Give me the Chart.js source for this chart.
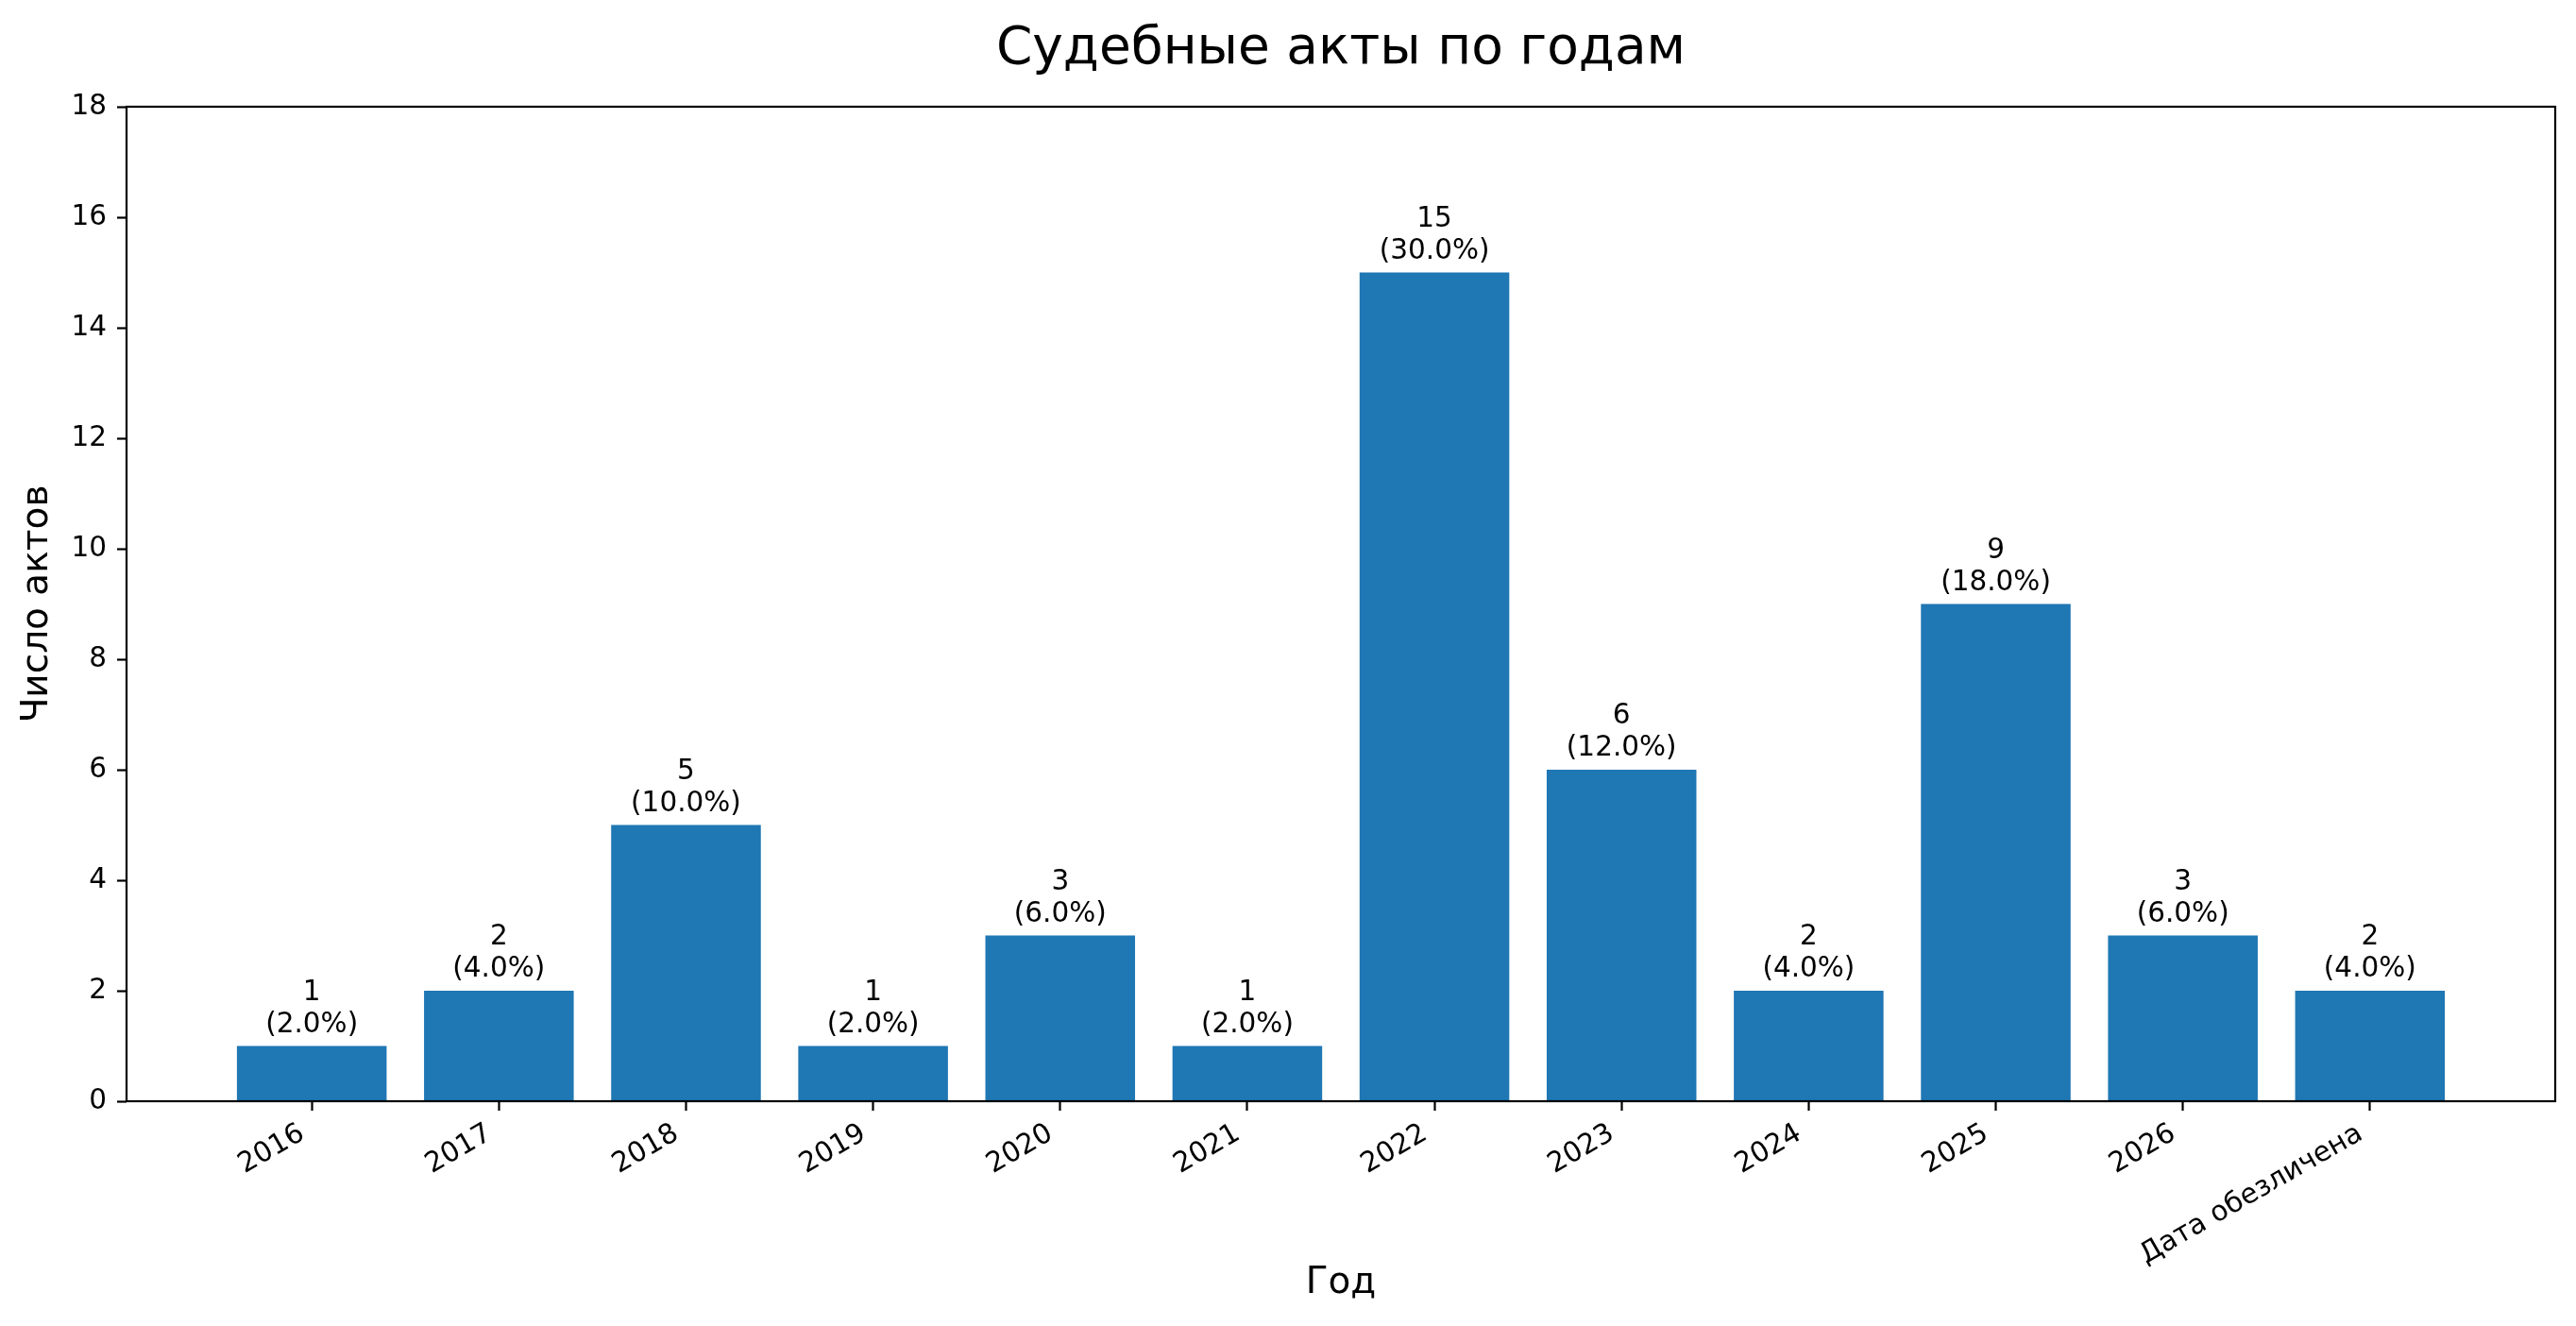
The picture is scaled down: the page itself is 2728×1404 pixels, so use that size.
<!DOCTYPE html>
<html>
<head>
<meta charset="utf-8">
<script src="https://cdn.jsdelivr.net/npm/chart.js@4.4.1/dist/chart.umd.min.js"></script>
<style>
  body { margin: 0; background: #fff; }
</style>
</head>
<body>
<canvas id="actsChart" width="2728" height="1404"></canvas>
<script>
// data
const years = ['2016', '2017', '2018', '2019', '2020', '2021', '2022', '2023', '2024', '2025', '2026', 'Дата обезличена'];
const counts = [1, 2, 5, 1, 3, 1, 15, 6, 2, 9, 3, 2];
const yTicks = [0, 2, 4, 6, 8, 10, 12, 14, 16, 18];
const chartTitle = 'Судебные акты по годам';

const total = counts.reduce((a, b) => a + b, 0);
const points = counts.map((v, i) => ({ x: i, y: v }));

const FONT = '"DejaVu Sans", "Liberation Sans", sans-serif';
Chart.defaults.color = '#000';
Chart.defaults.font.family = FONT;

// count and percent above every bar
const barLabels = {
    id: 'barLabels',
    afterDatasetsDraw(chart) {
        const ctx = chart.ctx;
        const meta = chart.getDatasetMeta(0);
        ctx.save();
        ctx.font = '29.5px ' + FONT;
        ctx.fillStyle = '#000';
        ctx.textAlign = 'center';
        ctx.textBaseline = 'alphabetic';
        meta.data.forEach((bar, i) => {
            const pct = (counts[i] / total * 100).toFixed(1);
            ctx.fillText(String(counts[i]), bar.x, bar.y - 49);
            ctx.fillText('(' + pct + '%)', bar.x, bar.y - 15);
        });
        ctx.restore();
    }
};

// box round the plot area, title centred over it
const frame = {
    id: 'frame',
    afterDraw(chart) {
        const a = chart.chartArea;
        const ctx = chart.ctx;
        ctx.save();
        ctx.strokeStyle = '#000';
        ctx.lineWidth = 2.2;
        ctx.strokeRect(a.left, a.top, a.right - a.left, a.bottom - a.top);
        ctx.font = '55px ' + FONT;
        ctx.fillStyle = '#000';
        ctx.textAlign = 'center';
        ctx.textBaseline = 'alphabetic';
        ctx.fillText(chartTitle, (a.left + a.right) / 2, a.top - 46);
        ctx.restore();
    }
};

const ctx = document.getElementById('actsChart').getContext('2d');
const actsChart = new Chart(ctx, {
    type: 'bar',
    data: {
        datasets: [{
            data: points,
            backgroundColor: '#1f77b4',
            borderWidth: 0,
            barPercentage: 0.8,
            categoryPercentage: 1.0,
        }],
    },
    options: {
        responsive: false,
        animation: false,
        devicePixelRatio: 1,
        layout: { padding: { left: 0, right: 22, top: 113, bottom: 0 } },
        plugins: {
            legend: { display: false },
            tooltip: { enabled: false },
            title: { display: false },
        },
        scales: {
            x: {
                type: 'linear',
                min: -0.99,
                max: 11.99,
                offset: false,
                afterBuildTicks: scale => {
                    scale.ticks = years.map((y, i) => ({ value: i }));
                },
                afterFit: scale => { scale.height = 238; },
                ticks: {
                    autoSkip: false,
                    minRotation: 30,
                    maxRotation: 30,
                    padding: 7,
                    labelOffset: -10,
                    color: '#000',
                    font: { size: 29.5 },
                    callback: value => years[value],
                },
                grid: {
                    display: true,
                    offset: false,
                    drawOnChartArea: false,
                    drawTicks: true,
                    tickLength: 10,
                    tickWidth: 2.2,
                    tickColor: '#000',
                },
                border: { display: false },
                title: {
                    display: true,
                    text: 'Год',
                    color: '#000',
                    font: { size: 39, weight: 'normal' },
                    padding: { top: 0, bottom: 22 },
                },
            },
            y: {
                min: 0,
                max: 18,
                afterBuildTicks: scale => {
                    scale.ticks = yTicks.map(v => ({ value: v }));
                },
                afterFit: scale => { scale.width = 134; },
                ticks: {
                    padding: 11,
                    color: '#000',
                    font: { size: 29.5 },
                },
                grid: {
                    display: true,
                    drawOnChartArea: false,
                    drawTicks: true,
                    tickLength: 10,
                    tickWidth: 2.2,
                    tickColor: '#000',
                },
                border: { display: false },
                title: {
                    display: true,
                    text: 'Число актов',
                    color: '#000',
                    font: { size: 39, weight: 'normal' },
                    padding: { top: 16, bottom: 0 },
                },
            },
        },
    },
    plugins: [barLabels, frame],
});
</script>
</body>
</html>
